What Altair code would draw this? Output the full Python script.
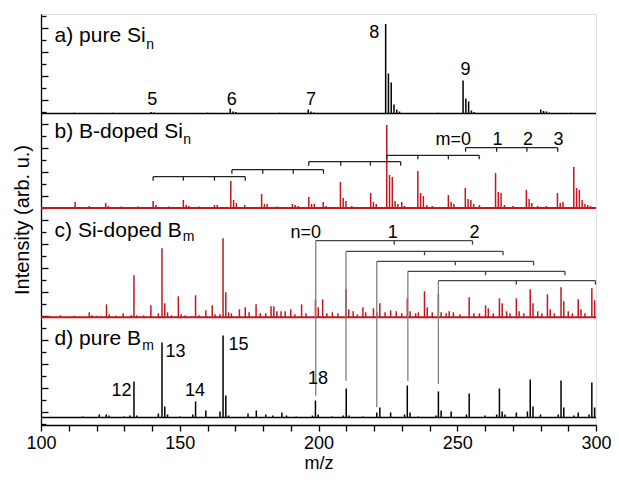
import altair as alt
import pandas as pd

# ---------------- data (m/z and peak heights) ----------------
# a) pure Si_n  (black)
a_mz = [112.0, 126.0, 139.7, 140.7, 160.0, 168.2, 169.2, 170.2, 186.0, 196.3, 197.3, 198.3,
        224.2, 225.2, 226.2, 227.2, 228.2, 229.2, 243.0, 252.1, 253.1, 254.1, 255.1, 256.1,
        280.1, 281.1, 282.1, 283.1, 291.0]
a_int = [0.8, 0.8, 1.5, 1.0, 0.8, 5.0, 2.0, 1.5, 0.8, 4.0, 2.0, 1.0,
         89.5, 40.0, 31.0, 9.0, 4.0, 2.0, 0.8, 33.0, 15.0, 12.0, 3.0, 1.5,
         4.0, 2.5, 2.0, 1.0, 0.8]

# b) B-doped Si_n  (red)
b_mz = [112.3, 117.4, 123.3, 124.3, 129.0, 135.0, 140.4, 141.4, 146.0, 151.3, 152.3, 153.3,
        157.0, 162.5, 163.5, 168.4, 169.4, 170.4, 173.4, 179.5, 180.5, 181.5, 185.0, 190.6,
        191.6, 192.6, 196.5, 197.5, 198.5, 201.7, 202.7, 207.9, 208.9, 209.9, 212.0, 218.8,
        219.8, 220.8, 224.6, 225.6, 226.6, 227.6, 228.6, 230.0, 231.0, 235.8, 236.8, 237.8,
        239.0, 241.0, 246.8, 247.8, 248.8, 252.9, 253.9, 254.9, 255.9, 258.0, 263.8, 264.8,
        265.8, 267.0, 270.0, 274.9, 275.9, 276.9, 279.0, 282.0, 286.1, 287.1, 288.1, 292.0,
        293.0, 294.0, 295.0, 296.0, 297.0, 298.0]
b_int = [6, 2, 5, 2, 1.5, 1.5, 7, 3, 1.5, 8, 3, 2,
         1.5, 3, 3, 27, 8, 5, 3, 14, 4, 4, 1.5, 4,
         3, 2, 11, 4, 4, 6, 2, 26, 10, 7, 2, 15,
         6, 4, 83, 33, 31, 7, 4, 6, 2, 37, 15, 12,
         3, 2, 13, 6, 4, 20, 9, 8, 4, 3, 35, 16,
         15, 3, 2, 18, 9, 5, 2, 2, 15, 5, 6, 41,
         20, 18, 8, 4, 3, 2]

# c) Si-doped B_m  (red)
c_mz = [103.0, 107.0, 112.0, 117.4, 118.4, 120.0, 123.6, 124.6, 127.0, 129.6, 132.5, 133.5,
        134.5, 137.0, 139.6, 142.3, 143.6, 144.6, 145.6, 147.0, 149.5, 150.5, 152.0, 155.7,
        157.0, 159.4, 161.7, 162.7, 164.5, 165.6, 166.6, 167.6, 168.6, 171.5, 173.6, 175.0,
        177.5, 179.0, 181.0, 182.9, 183.9, 185.0, 186.5, 188.0, 190.0, 191.5, 193.9, 195.5,
        198.9, 199.9, 201.5, 203.0, 205.0, 207.0, 209.9, 210.9, 212.5, 214.0, 216.0, 217.0,
        219.8, 221.0, 222.1, 224.0, 226.0, 228.0, 230.0, 232.0, 233.0, 235.0, 236.0, 238.2,
        239.2, 241.0, 243.2, 244.2, 246.0, 247.1, 248.6, 251.0, 254.3, 256.0, 258.0, 260.2,
        261.2, 263.0, 265.2, 266.2, 267.8, 269.0, 271.3, 272.3, 274.0, 276.3, 277.3, 279.0,
        280.5, 282.5, 283.5, 285.0, 287.4, 288.4, 290.0, 291.5, 293.6, 294.6, 296.0, 298.5,
        299.5]
c_int = [1.5, 2, 1.5, 5, 2, 1.5, 13, 3, 1.5, 4, 2, 42,
         2, 2, 12, 4, 69, 14, 5, 2, 21, 3, 2, 22,
         2, 7, 12, 3, 3, 79, 25, 5, 4, 8, 10, 5,
         13, 4, 4, 11, 11, 6, 6, 6, 8, 3, 13, 4,
         18, 10, 18, 4, 5, 4, 28, 8, 6, 3, 10, 5,
         9, 5, 14, 5, 7, 6, 4, 19, 6, 4, 5, 26,
         10, 5, 23, 5, 4, 6, 5, 3, 20, 4, 4, 12,
         9, 4, 19, 14, 6, 4, 19, 6, 4, 28, 14, 6,
         4, 23, 8, 4, 30, 16, 6, 4, 18, 8, 4, 29,
         17]

# d) pure B_m  (black)
d_mz = [115.0, 121.0, 123.5, 124.5, 130.0, 132.0, 133.5, 134.5, 142.3, 143.6, 144.6, 145.6,
        150.0, 154.7, 155.7, 159.4, 164.5, 165.6, 166.6, 167.6, 174.6, 177.6, 181.0, 183.5,
        186.8, 188.5, 192.0, 197.8, 198.9, 199.9, 205.0, 208.9, 210.0, 211.0, 216.0, 221.0,
        222.1, 226.0, 231.0, 232.0, 233.0, 236.0, 242.3, 243.2, 244.2, 247.8, 253.3, 254.3,
        260.0, 264.2, 265.2, 266.2, 267.2, 271.3, 275.3, 276.3, 277.3, 280.0, 286.4, 287.4,
        288.4, 292.0, 293.6, 297.5, 298.5, 299.5]
d_int = [1, 3, 3, 2, 1, 2, 36, 2, 4, 75, 11, 3,
         1, 3, 16, 7, 6, 82, 22, 2, 4, 7, 3, 2,
         5, 2, 1, 2, 17, 3, 1, 2, 29, 2, 1, 5,
         10, 5, 3, 32, 5, 1, 2, 26, 7, 6, 3, 24,
         2, 3, 29, 6, 3, 5, 6, 38, 11, 3, 3, 37,
         10, 2, 5, 3, 35, 10]

# vertical offsets of the four stacked spectra (baseline of each trace)
panel_base = [311.5, 217.0, 107.7, 7.5]

# cluster-size labels
a_lbl_txt = ["5", "6", "7", "8", "9"]
a_lbl_mz = [140.1, 168.7, 197.3, 220.1, 253.0]
a_lbl_y = [320.0, 320.0, 320.0, 386.7, 350.0]

d_lbl_txt = ["12", "13", "14", "15", "18"]
d_lbl_mz = [129.0, 148.5, 155.5, 171.2, 199.8]
d_lbl_y = [29.3, 67.7, 28.7, 75.3, 41.0]

# B-doped Si brackets (Si_n B_m, m = 0..3)
b_br_start = [140.4, 168.8, 196.5, 224.6, 253.0]
b_br_end = [173.6, 201.8, 229.6, 257.9, 286.2]
b_br_level = [248.3, 255.3, 263.3, 269.7, 277.3]
b_br_ticks = [[140.4, 151.3, 162.5, 173.6],
              [168.8, 179.9, 190.9, 201.8],
              [196.5, 208.0, 218.7, 229.6],
              [224.6, 235.8, 246.8, 257.9],
              [253.0, 264.2, 275.1, 286.2]]
b_br_lbl_txt = ["m=0", "1", "2", "3"]
b_br_lbl_mz = [255.0, 264.5, 275.5, 286.5]
b_br_lbl_y = 280.0

# Si-doped B brackets (B_m Si_n, n = 0..2)
c_br_start = [199.0, 209.9, 221.0, 232.2, 243.2]
c_br_mid = [227.3, 238.2, 249.3, 260.2, 271.3]
c_br_end = [255.5, 266.5, 277.5, 288.8, 299.8]
c_br_level = [184.3, 173.7, 163.7, 153.7, 144.3]
c_br_drop = [29.3, 44.3, 17.7, 44.3, 41.0]
c_br_lbl_txt = ["n=0", "1", "2"]
c_br_lbl_mz = [200.9, 226.8, 256.2]
c_br_lbl_y = 187.0

# panel titles (main text + subscript)
ttl_txt = ["a) pure Si", "b) B-doped Si", "c) Si-doped B", "d) pure B"]
ttl_y = [382.7, 286.7, 187.7, 80.0]
sub_txt = ["n", "n", "m", "m"]
sub_mz = [137.9, 151.3, 151.1, 136.5]
sub_y = [376.0, 281.0, 183.7, 75.3]
ttl_mz = 104.9

# ---------------- chart ----------------
FONT = "Liberation Sans"
RED = "#c3161e"
BLACK = "#000000"
W, H = 555, 411

xscale = alt.Scale(domain=[100, 300], nice=False, zero=False)
yscale = alt.Scale(domain=[0, 411], nice=False, zero=False)

xaxis = alt.Axis(values=list(range(100, 301, 10)),
                 labelExpr="datum.value % 50 == 0 ? datum.label : ''",
                 tickSize=6, tickWidth=1.3, domainWidth=1.3, orient="bottom",
                 domainColor=BLACK, tickColor=BLACK, labelColor=BLACK, titleColor=BLACK,
                 labelFontSize=18, titleFontSize=18, titleFontWeight="normal",
                 labelPadding=3, titlePadding=2, grid=False, title="m/z",
                 labelFlush=False, labelOverlap=False,
                 labelFont=FONT, titleFont=FONT)

yaxis_main = alt.Axis(orient="left", ticks=False, labels=False, grid=False,
                      domainColor=BLACK, domainWidth=1.3,
                      title="Intensity (arb. u.)", titleFontSize=20,
                      titleFontWeight="normal", titleColor=BLACK, titleFont=FONT,
                      titlePadding=9)
yaxis_major = alt.Axis(orient="left", offset=-7, domain=False, labels=False, grid=False,
                       tickSize=7, tickWidth=1.3, tickColor=BLACK, title=None,
                       values=[13 + 24 * j for j in range(17)])
yaxis_minor = alt.Axis(orient="left", offset=-5, domain=False, labels=False, grid=False,
                       tickSize=5, tickWidth=1.3, tickColor=BLACK, title=None,
                       values=[1 + 24 * j for j in range(18)])


def X(field):
    return alt.X(f"{field}:Q", scale=xscale, axis=xaxis, title="m/z")


def spectrum(mz, inten, base, color, yaxis):
    df = pd.DataFrame({"mz": mz, "y0": [base] * len(mz),
                       "y1": [base + v for v in inten]})
    return alt.Chart(df).mark_rule(color=color, strokeWidth=1.5).encode(
        x=X("mz"),
        y=alt.Y("y0:Q", scale=yscale, axis=yaxis),
        y2="y1:Q")


spec_a = spectrum(a_mz, a_int, panel_base[0], BLACK, yaxis_main)
spec_b = spectrum(b_mz, b_int, panel_base[1], RED, yaxis_major)
spec_c = spectrum(c_mz, c_int, panel_base[2], RED, yaxis_minor)
spec_d = spectrum(d_mz, d_int, panel_base[3], BLACK, None)

base_df = pd.DataFrame({"mz": [100] * 4, "x1": [300] * 4, "y": panel_base,
                        "col": [BLACK, RED, RED, BLACK], "w": [1.3, 2.0, 2.0, 1.3]})
baselines = alt.Chart(base_df).mark_rule().encode(
    x=X("mz"), x2="x1:Q",
    y=alt.Y("y:Q", scale=yscale, axis=None),
    color=alt.Color("col:N", scale=None),
    strokeWidth=alt.StrokeWidth("w:Q", scale=None))

# B-doped brackets
bh_df = pd.DataFrame({"mz": b_br_start, "e": b_br_end, "y": b_br_level})
b_h = alt.Chart(bh_df).mark_rule(color="#222222", strokeWidth=1.3).encode(
    x=X("mz"), x2="e:Q",
    y=alt.Y("y:Q", scale=yscale, axis=None))
bt_rows = []
for ticks, lev in zip(b_br_ticks, b_br_level):
    for t in ticks:
        bt_rows.append({"mz": t, "y": lev, "y2": lev - 4})
b_t = alt.Chart(pd.DataFrame(bt_rows)).mark_rule(color="#222222", strokeWidth=1.3).encode(
    x=X("mz"),
    y=alt.Y("y:Q", scale=yscale, axis=None), y2="y2:Q")

# Si-doped brackets
ch_df = pd.DataFrame({"mz": c_br_start, "e": c_br_end, "y": c_br_level, "d": c_br_drop})
c_h = alt.Chart(ch_df).mark_rule(color="#444444", strokeWidth=1.3).encode(
    x=X("mz"), x2="e:Q",
    y=alt.Y("y:Q", scale=yscale, axis=None))
c_v = alt.Chart(ch_df).mark_rule(color="#7f7f7f", strokeWidth=1.3).encode(
    x=X("mz"),
    y=alt.Y("y:Q", scale=yscale, axis=None), y2="d:Q")
ct_rows = []
for m, e, lev in zip(c_br_mid, c_br_end, c_br_level):
    ct_rows.append({"mz": m, "y": lev, "y2": lev - 4})
    ct_rows.append({"mz": e, "y": lev, "y2": lev - 4})
c_t = alt.Chart(pd.DataFrame(ct_rows)).mark_rule(color="#444444", strokeWidth=1.3).encode(
    x=X("mz"),
    y=alt.Y("y:Q", scale=yscale, axis=None), y2="y2:Q")


def texts(txt, mz, y, size, align="center"):
    df = pd.DataFrame({"t": txt, "mz": mz, "y": y})
    return alt.Chart(df).mark_text(font=FONT, fontSize=size, color=BLACK, align=align,
                                   baseline="alphabetic").encode(
        x=X("mz"),
        y=alt.Y("y:Q", scale=yscale, axis=None),
        text="t:N")


lbl_a = texts(a_lbl_txt, a_lbl_mz, a_lbl_y, 18)
lbl_d = texts(d_lbl_txt, d_lbl_mz, d_lbl_y, 18)
lbl_bm0 = texts(b_br_lbl_txt[:1], b_br_lbl_mz[:1], [b_br_lbl_y], 18, align="right")
lbl_bm = texts(b_br_lbl_txt[1:], b_br_lbl_mz[1:], [b_br_lbl_y] * 3, 18)
lbl_cn0 = texts(c_br_lbl_txt[:1], c_br_lbl_mz[:1], [c_br_lbl_y], 18, align="right")
lbl_cn = texts(c_br_lbl_txt[1:], c_br_lbl_mz[1:], [c_br_lbl_y] * 2, 18)
titles = texts(ttl_txt, [ttl_mz] * 4, ttl_y, 21, align="left")
subs = texts(sub_txt, sub_mz, sub_y, 14, align="left")

chart = alt.layer(
    spec_a, spec_b, spec_c, spec_d, baselines,
    b_h, b_t, c_h, c_t, c_v,
    lbl_a, lbl_d, lbl_bm0, lbl_bm, lbl_cn0, lbl_cn, titles, subs
).resolve_axis(y="independent", x="shared").properties(
    width=W, height=H,
    autosize=alt.AutoSizeParams(type="none"),
    padding={"left": 33, "top": 6, "right": 15, "bottom": 49},
    background="white"
).configure_view(stroke=None).configure(font=FONT)

chart.save("out.html", embed_options={"renderer": "svg", "actions": False})
